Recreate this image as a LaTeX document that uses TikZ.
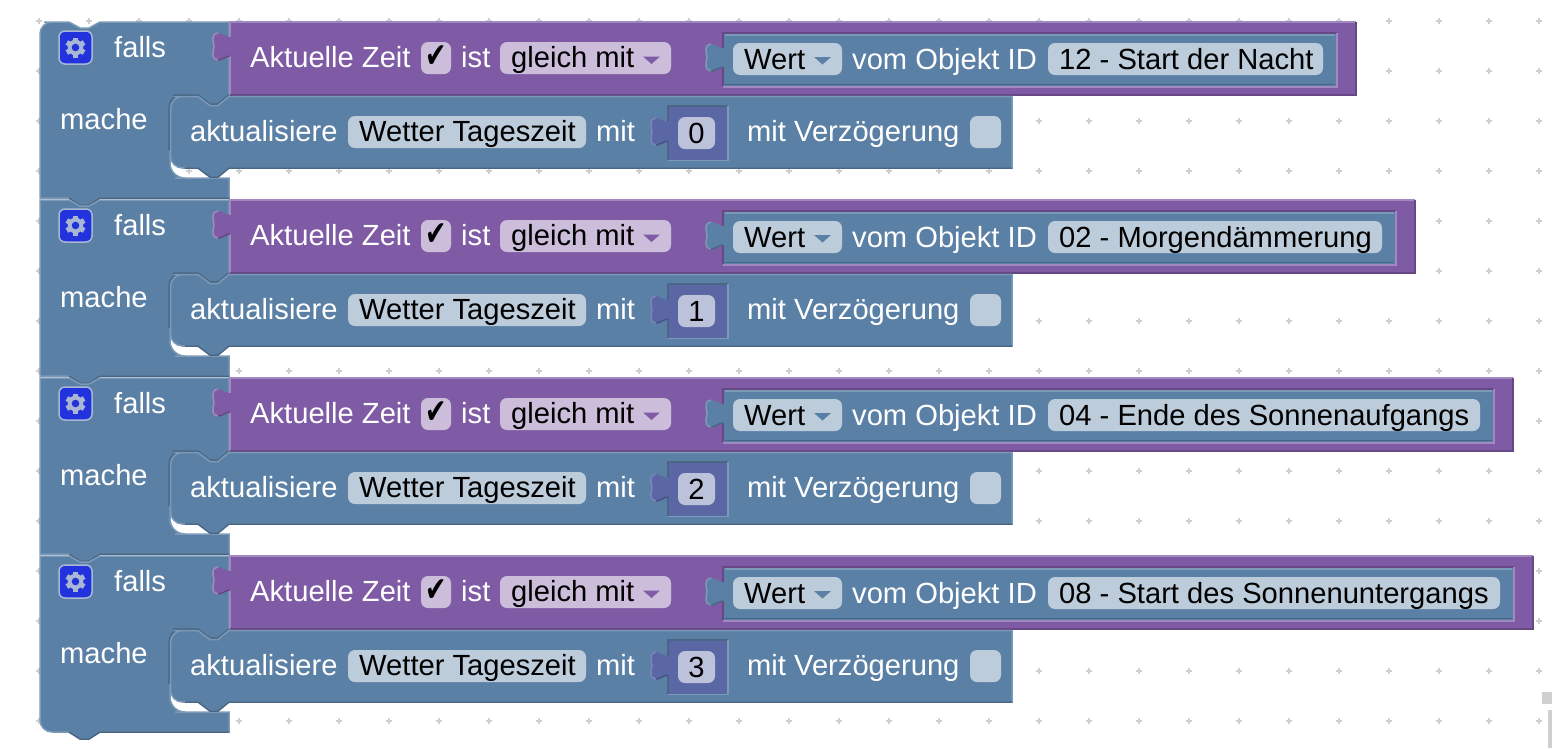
\documentclass[tikz,border=0pt]{standalone}
\usepackage{fontspec}
\setmainfont{Liberation Sans}
\newfontfamily\dejavu{DejaVu Sans}
\definecolor{blockblau}{HTML}{5B80A5}
\definecolor{blockhell}{HTML}{7C99B8}
\definecolor{blockdunkel}{HTML}{496684}
\definecolor{feldblau}{HTML}{BDCCDB}
\definecolor{blocklila}{HTML}{805BA5}
\definecolor{lilahell}{HTML}{A288C0}
\definecolor{liladunkel}{HTML}{664984}
\definecolor{feldlila}{HTML}{CCBDDB}
\definecolor{blockzahl}{HTML}{5B67A5}
\definecolor{zahlhell}{HTML}{7C85B8}
\definecolor{zahldunkel}{HTML}{495284}
\definecolor{feldzahl}{HTML}{BDC2DB}
\definecolor{gearblau}{HTML}{2233DD}
\definecolor{gearrad}{HTML}{A9B7D5}
\definecolor{rasterfarbe}{HTML}{CFCFCF}
\tikzset{
  weiss/.style={anchor=base west, inner sep=0pt, text=white, font=\fontsize{29.15}{32}\selectfont},
  schwarz/.style={anchor=base west, inner sep=0pt, text=black, font=\fontsize{29.15}{32}\selectfont},
  feld/.style={rounded corners=7pt},
  kante/.style={line width=1.5pt},
}
% puzzle tab on the left edge of a block, drawn upwards: #1 = edge x, #2 = tab top y
\newcommand{\puzzletab}[2]{
  -- (#1,#2+23) .. controls (#1-4,#2+23) and (#1-8,#2+27) .. (#1-12,#2+27)
  .. controls (#1-15,#2+27) and (#1-17,#2+25) .. (#1-17,#2+21)
  .. controls (#1-17,#2+17) and (#1-16,#2+16) .. (#1-16,#2+13.5)
  .. controls (#1-16,#2+11) and (#1-17,#2+10) .. (#1-17,#2+6)
  .. controls (#1-17,#2+2) and (#1-15,#2) .. (#1-12,#2)
  .. controls (#1-8,#2) and (#1-4,#2+4) .. (#1,#2+4)
}
% the same outline as an open stroke along the tab's far side
\newcommand{\tabrand}[2]{
  (#1-12,#2+27) .. controls (#1-15,#2+27) and (#1-17,#2+25) .. (#1-17,#2+21)
  .. controls (#1-17,#2+17) and (#1-16,#2+16) .. (#1-16,#2+13.5)
  .. controls (#1-16,#2+11) and (#1-17,#2+10) .. (#1-17,#2+6)
  .. controls (#1-17,#2+2) and (#1-15,#2) .. (#1-12,#2)
}
\newcommand{\tabschatten}[2]{
  (#1,#2+23) .. controls (#1-4,#2+23) and (#1-8,#2+27) .. (#1-12,#2+27)
}
\begin{document}
\begin{tikzpicture}[x=1pt, y=-1pt]
\useasboundingbox (0,0) rectangle (1552,748);
% grid
\foreach \gx in {0,...,30} {
  \foreach \gy in {0,...,14} {
    \fill[rasterfarbe] ({39+50*\gx-3},{21+50*\gy-1}) rectangle ++(6,2);
    \fill[rasterfarbe] ({39+50*\gx-1},{21+50*\gy-3}) rectangle ++(2,6);
  }
}
% scrollbar
\fill[rasterfarbe] (1542,692) rectangle (1552,704);
\fill[rasterfarbe] (1548,710) rectangle (1552,748);
% the four blocks
\foreach \rowno/\wert/\objname/\lilarechts/\rtop/\rbot in {
  0/0/12 - Start der Nacht/1356/12pt/0pt,
  1/1/02 - Morgendämmerung/1415/0pt/0pt,
  2/2/04 - Ende des Sonnenaufgangs/1513/0pt/0pt,
  3/3/08 - Start des Sonnenuntergangs/1533/0pt/12pt} {
\begin{scope}[shift={(0,178*\rowno)}]
  % falls block
  \draw[fill=blockblau, draw=blockhell, kante]
    (40,120) [rounded corners=\rtop] -- (40,22) -- (56,22) [sharp corners] -- (69,22)
    -- (80,28) -- (89,28) -- (100,22) -- (229,22) -- (229,110) -- (170,110)
    -- (170,155) [rounded corners=15pt] -- (170,178) -- (190,178) [sharp corners]
    -- (229,178) -- (229,198) -- (100,198) -- (89,205) -- (80,205) -- (69,198) -- (56,198)
    [rounded corners=\rbot] -- (40,198) -- (40,120) -- cycle;
  \draw[blockdunkel, kante] (229,198) -- (100,198) -- (89,205) -- (80,205) -- (69,198);
  % gear
  \draw[fill=gearblau, draw=gearrad, kante, rounded corners=6pt] (59,31) rectangle (92,64);
  \foreach \winkel in {0,60,...,300} {
    \fill[gearrad, shift={(75.5,47.5)}, rotate=\winkel] (-2.6,-10) rectangle (2.6,-6);
  }
  \fill[gearrad] (75.5,47.5) circle (7.8);
  \fill[gearblau] (75.5,47.5) circle (3.8);
  \node[weiss] (falls\rowno) at (114,57) {falls};
  \node[weiss] (mache\rowno) at (60,129) {mache};
  % Aktuelle Zeit block
  \fill[blocklila]
    (230,22) -- (\lilarechts,22) -- (\lilarechts,95) -- (230,95) \puzzletab{230}{33} -- cycle;
  \draw[lilahell, kante] (230,37) -- (230,22) -- (\lilarechts,22);
  \draw[lilahell, kante] (230,56) -- (230,95);
  \draw[lilahell, kante] \tabrand{230}{33};
  \draw[liladunkel, kante] \tabschatten{230}{33};
  \draw[liladunkel, kante] (\lilarechts,22) -- (\lilarechts,95) -- (230,95);
  \node[weiss] (zeit\rowno) at (250,67) {Aktuelle Zeit};
  \fill[feldlila, feld] (421,42) rectangle (451,74);
  \node[inner sep=0pt, text=black, xscale=.85, yscale=1.15, font=\dejavu\fontsize{30}{32}\selectfont] (haken\rowno) at (436,57) {✔};
  \node[weiss] (ist\rowno) at (461,67) {ist};
  \fill[feldlila, feld] (500,42) rectangle (671,74);
  \node[schwarz] (gleich\rowno) at (511,67) {gleich mit};
  \fill[blocklila] (643,56.5) -- (660,56.5) -- (651.5,64) -- cycle;
  % Wert block
  \fill[blockblau]
    (723,33) -- (\lilarechts-19,33) -- (\lilarechts-19,86) -- (723,86) \puzzletab{723}{44} -- cycle;
  \draw[liladunkel, kante] (723,48) -- (723,33) -- (\lilarechts-19,33);
  \draw[liladunkel, kante] (723,67) -- (723,86);
  \draw[lilahell, kante] (\lilarechts-19,33) -- (\lilarechts-19,87) -- (723,87);
  \draw[blockhell, kante] (725,35) -- (\lilarechts-21,35);
  \draw[blockhell, kante] \tabrand{723}{44};
  \draw[blockdunkel, kante] \tabschatten{723}{44};
  \draw[blockdunkel, kante] (725,84.5) -- (\lilarechts-21,84.5);
  \fill[feldblau, feld] (733,43) rectangle (842,75);
  \node[schwarz] (wert\rowno) at (744,69) {Wert};
  \fill[blockblau] (814,57) -- (831,57) -- (822.5,64.5) -- cycle;
  \node[weiss] (vom\rowno) at (852,69) {vom Objekt ID};
  \fill[feldblau, feld] (1048,43) rectangle (\lilarechts-33,75);
  \node[schwarz] (obj\rowno) at (1059,69) {\objname};
  % aktualisiere block
  \draw[blockdunkel, kante]
    (169,150) [rounded corners=13pt] -- (169,95) -- (186,95) [sharp corners] -- (198,95)
    -- (210,104) -- (218,104) -- (229,95);
  \draw[fill=blockblau, draw=blockhell, kante]
    (170.5,130) [rounded corners=12pt] -- (170.5,96.5) -- (186,96.5) [sharp corners] -- (198,96.5)
    -- (210,105.5) -- (218,105.5) -- (229,96.5) -- (1012,96.5) -- (1012,168) -- (229,168)
    -- (218,177) -- (210,177) -- (198,168) -- (186,168) [rounded corners=12pt] -- (170.5,168)
    -- (170.5,130) -- cycle;
  \draw[blockdunkel, kante] (1012,168) -- (229,168) -- (218,177) -- (210,177) -- (198,168) -- (185,168);
  \node[weiss] (akt\rowno) at (190,141) {aktualisiere};
  \fill[feldblau, feld] (348,116) rectangle (586,148);
  \node[schwarz] (tag\rowno) at (359,141) {Wetter Tageszeit};
  \node[weiss] (mit\rowno) at (596,141) {mit};
  % Zahl block
  \fill[blockzahl]
    (668,106) -- (728,106) -- (728,160) -- (668,160) \puzzletab{668}{118} -- cycle;
  \draw[blockdunkel, kante] (668,122) -- (668,106) -- (728,106);
  \draw[blockdunkel, kante] (668,141) -- (668,160);
  \draw[blockhell, kante] (728,106) -- (728,160.5) -- (668,160.5);
  \draw[zahlhell, kante] \tabrand{668}{118};
  \draw[zahldunkel, kante] \tabschatten{668}{118};
  \fill[feldzahl, feld] (678,117) rectangle (715,149);
  \node[schwarz, anchor=base] (zahl\rowno) at (696.5,143) {\wert};
  \node[weiss] (verz\rowno) at (747,141) {mit Verzögerung};
  \fill[feldblau, feld] (970,116) rectangle (1001,148);
\end{scope}
}
\end{tikzpicture}
\end{document}
